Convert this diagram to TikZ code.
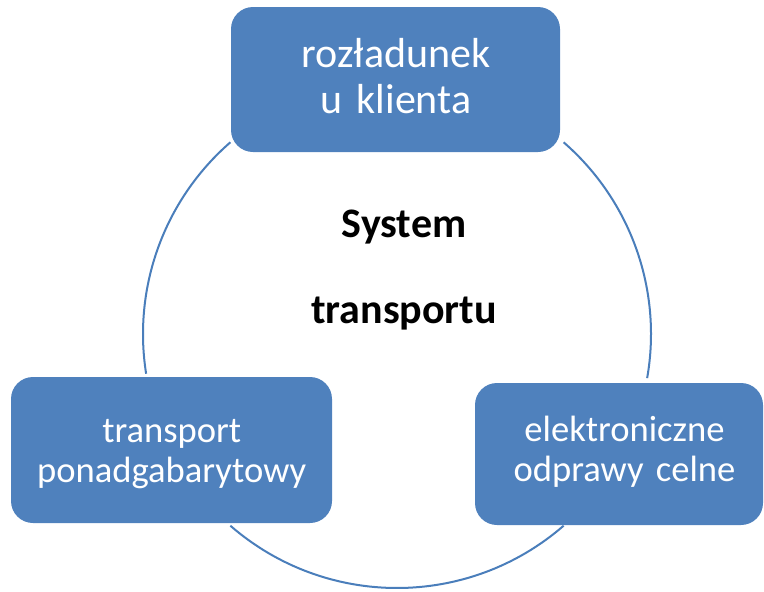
\documentclass[tikz,border=0pt]{standalone}
\usepackage{fontspec}
\setmainfont{Carlito}
\definecolor{boxblue}{HTML}{4F81BD}
\definecolor{lineblue}{HTML}{4A7EBB}
\begin{document}
\begin{tikzpicture}[x=1pt,y=-1pt,
  box/.style={rounded corners=22pt, fill=boxblue, draw=none, inner sep=0pt},
  boxtext/.style={text=white, anchor=base, align=center, inner sep=0pt},
  ring/.style={draw=lineblue, line width=2pt},
  centertext/.style={text=black, anchor=base, align=center, inner sep=0pt, text width=250pt,
    font=\fontsize{42}{86}\selectfont\bfseries}]
\useasboundingbox (0,0) rectangle (764,592);
% ring
\coordinate (c) at (397,334);
\draw[ring] (c) ++(171:254) arc[start angle=171, end angle=229, radius=254];
\draw[ring] (c) ++(49:254) arc[start angle=49, end angle=131, radius=254];
\draw[ring] (c) ++(-49:254) arc[start angle=-49, end angle=10, radius=254];
% boxes
\node[box, minimum width=329pt, minimum height=145pt] (top) at (395.5,79.5) {};
\node[box, minimum width=321pt, minimum height=146pt] (left) at (171.5,450) {};
\node[box, minimum width=288pt, minimum height=142pt] (right) at (619,454) {};
% texts
\node[boxtext, text width=320pt, font=\fontsize{42}{46}\selectfont] (toptext) at (396,67) {rozładunek\\u klienta};
\node[boxtext, text width=320pt, font=\fontsize{36.6}{40}\selectfont] (lefttext) at (171.7,442) {transport\\ponadgabarytowy};
\node[boxtext, text width=280pt, font=\fontsize{36.6}{40}\selectfont] (righttext) at (624.5,441) {elektroniczne\\odprawy celne};
\node[centertext] (center) at (404,237) {System\\transportu};
\end{tikzpicture}
\end{document}
